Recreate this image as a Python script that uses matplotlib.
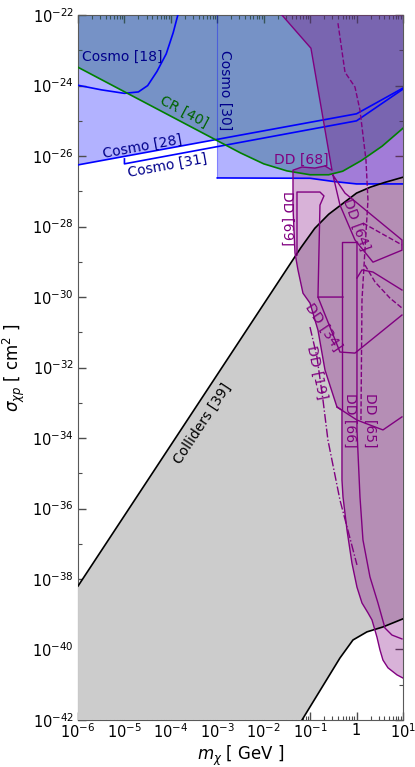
import numpy as np
import matplotlib
matplotlib.use("Agg")
import matplotlib.pyplot as plt
from matplotlib.ticker import LogLocator, NullFormatter

# all values are log10(m / GeV) and log10(sigma / cm^2)
cosmo18_m = [-6.0, -5.5, -5.0, -4.7, -4.5, -4.3, -4.1, -3.95, -3.85]
cosmo18_s = [-23.99, -24.12, -24.22, -24.18, -24.0, -23.6, -23.1, -22.5, -22.0]
cosmo28_m = [-6.0, 0.0, 1.0]
cosmo28_s = [-26.25, -24.8, -24.07]
cosmo31_m = [-5.0, -5.0, 0.0, 1.0]
cosmo31_s = [-26.08, -26.22, -25.0, -24.1]
cosmo30_m = [-3.0, -1.0, -0.5, 0.0, 1.0]
cosmo30_s = [-26.62, -26.63, -26.72, -26.79, -26.79]
cr40_m = [-6.0, -2.5, -2.0, -1.5, -1.0, -0.6, -0.3, 0.1, 0.55, 1.0]
cr40_s = [-23.48, -25.91, -26.22, -26.42, -26.53, -26.53, -26.43, -26.13, -25.72, -25.21]

coll_up_m = [-6.0, -1.2, -0.9, -0.6, -0.3, 0.0, 0.3, 0.6, 1.0]
coll_up_s = [-38.2, -28.6, -28.05, -27.65, -27.35, -27.05, -26.88, -26.75, -26.6]
coll_lo_m = [-1.175, -0.357, -0.077, 0.224, 0.569, 1.0]
coll_lo_s = [-42.0, -40.24, -39.73, -39.50, -39.36, -39.13]

# outer envelope of the direct detection limits
dd_env_m = [-1.606, 1.0, 1.0, 0.871, 0.677, 0.569, 0.504, 0.440, 0.332, 0.246, 0.117,
            0.009, -0.099, -0.206, -0.292, -0.314, -0.314, -0.422, -0.680, -0.831,
            -1.003, -1.154, -1.262, -1.326, -1.369, -1.369, -1.176, -0.896, -0.680,
            -0.530, -0.982]
dd_env_s = [-22.0, -22.0, -40.81, -40.72, -40.52, -40.30, -40.01, -39.65, -39.16, -38.96,
            -38.68, -38.23, -37.55, -36.61, -35.67, -35.19, -33.21, -33.12, -32.07, -30.94,
            -30.17, -29.89, -29.23, -28.75, -27.45, -26.40, -26.31, -26.34, -26.28,
            -26.40, -22.94]
dd64_m = [-0.508, -0.249, 0.978, 0.978, 0.354, -0.034, -0.357, -0.508]
dd64_s = [-26.54, -27.05, -28.38, -28.67, -29.01, -28.38, -27.39, -26.54]
dd69_m = [-1.283, -1.283, -0.788, -0.702, -0.788, -0.831]
dd69_s = [-28.81, -27.02, -27.02, -27.13, -27.39, -30.0]
dd34_m = [-0.292, -0.831, -0.357, -0.034, 0.978]
dd34_s = [-30.0, -30.0, -31.56, -31.59, -30.51]
dd66_m = [0.009, -0.314, -0.314]
dd66_s = [-28.44, -28.44, -33.21]
dd65_m = [0.009, 0.009, 0.074, 0.138, 0.289, 0.461, 0.612, 0.763, 0.978]
dd65_s = [-28.44, -33.77, -35.67, -36.89, -37.94, -38.68, -39.39, -39.59, -39.70]
dd65_top_m = [0.009, 0.117, 0.354, 0.978]
dd65_top_s = [-29.46, -29.23, -29.29, -29.80]
dd_cross_m = [-0.422, 0.009, 0.569, 0.978]
dd_cross_s = [-33.12, -33.49, -33.77, -33.40]
dd_dash_m = [-0.40, -0.249, -0.034, 0.074, 0.203, 0.246, 0.181, 0.117, 0.095]
dd_dash_s = [-22.23, -23.62, -24.04, -24.70, -26.11, -27.25, -28.67, -30.09, -33.49]
dd_dash2_m = [0.138, 0.978]
dd_dash2_s = [-27.90, -28.52]
dd_dash3_m = [0.181, 0.397, 0.720, 0.978]
dd_dash3_s = [-29.09, -29.57, -30.03, -30.31]
dd19_m = [-1.003, -0.853, -0.723, -0.616, -0.357, 0.009]
dd19_s = [-30.85, -31.70, -32.92, -34.06, -35.76, -37.60]

xtick_exp = list(range(-6, 2))
xtick_labels = [r'$10^{-6}$', r'$10^{-5}$', r'$10^{-4}$', r'$10^{-3}$',
                r'$10^{-2}$', r'$10^{-1}$', '1', r'$10^{1}$']
ytick_exp = list(range(-42, -21, 2))
ytick_labels = [r'$10^{%d}$' % e for e in ytick_exp]


def P(a):
    return 10.0 ** np.asarray(a, dtype=float)


fig = plt.figure(figsize=(4.15, 7.67), dpi=100)
ax = fig.add_axes([0.188, 0.0613, 0.783, 0.919])
ax.set_xscale('log')
ax.set_yscale('log')

# cosmology: one union region
c28_at_1em3 = np.interp(cosmo30_m[0], cosmo28_m, cosmo28_s)
blue_m = [-6.0, 1.0] + cosmo30_m[::-1] + [cosmo30_m[0], -6.0]
blue_s = [-22.0, -22.0] + cosmo30_s[::-1] + [c28_at_1em3, cosmo28_s[0]]
ax.fill(P(blue_m), P(blue_s), color='blue', alpha=0.3, lw=0, zorder=1)

# cosmic rays
cr_m = cr40_m + [1.0, -6.0]
cr_s = cr40_s + [-22.0, -22.0]
ax.fill(P(cr_m), P(cr_s), color='#15606a', alpha=0.38, lw=0, zorder=2)

# colliders
col_m = coll_up_m + coll_lo_m[::-1] + [-6.0]
col_s = coll_up_s + coll_lo_s[::-1] + [-42.0]
ax.fill(P(col_m), P(col_s), color='0.8', lw=0, zorder=3)

# direct detection
ax.fill(P(dd_env_m), P(dd_env_s), color='purple', alpha=0.3, lw=0, zorder=4)

ax.plot(P(cosmo18_m), P(cosmo18_s), color='blue', lw=1.2, zorder=5)
ax.plot(P(cosmo28_m), P(cosmo28_s), color='blue', lw=1.2, zorder=5)
ax.plot(P(cosmo31_m), P(cosmo31_s), color='blue', lw=1.2, zorder=5)
ax.plot(P(cosmo30_m), P(cosmo30_s), color='blue', lw=1.2, zorder=5)
ax.plot(P([cosmo30_m[0], cosmo30_m[0]]), P([cosmo30_s[0], -22.0]),
        color='blue', alpha=0.35, lw=0.8, zorder=5)
ax.plot(P(cr40_m), P(cr40_s), color='green', lw=1.2, zorder=5)
ax.plot(P(coll_up_m), P(coll_up_s), color='k', lw=1.2, zorder=5)
ax.plot(P(coll_lo_m), P(coll_lo_s), color='k', lw=1.2, zorder=5)

dd_kw = dict(color='purple', lw=1.0, zorder=6)
ax.plot(P(dd_env_m[2:] + dd_env_m[:1]), P(dd_env_s[2:] + dd_env_s[:1]), **dd_kw)
ax.plot(P(dd64_m), P(dd64_s), **dd_kw)
ax.plot(P(dd69_m), P(dd69_s), **dd_kw)
ax.plot(P(dd34_m), P(dd34_s), **dd_kw)
ax.plot(P(dd66_m), P(dd66_s), **dd_kw)
ax.plot(P(dd65_m), P(dd65_s), **dd_kw)
ax.plot(P(dd65_top_m), P(dd65_top_s), **dd_kw)
ax.plot(P(dd_cross_m), P(dd_cross_s), **dd_kw)
ax.plot(P(dd_dash_m), P(dd_dash_s), ls='--', **dd_kw)
ax.plot(P(dd_dash2_m), P(dd_dash2_s), ls='--', **dd_kw)
ax.plot(P(dd_dash3_m), P(dd_dash3_s), ls='--', **dd_kw)
ax.plot(P(dd19_m), P(dd19_s), ls='-.', **dd_kw)

# labels
txt = dict(fontsize=10, ha='center', va='center', zorder=7)
ax.text(10**-5.05, 10**-23.19, 'Cosmo [18]', color='darkblue', **txt)
ax.text(10**-3.72, 10**-24.75, 'CR [40]', color='darkgreen', rotation=-28, **txt)
ax.text(10**-4.62, 10**-25.72, 'Cosmo [28]', color='darkblue', rotation=10.4, **txt)
ax.text(10**-4.08, 10**-26.28, 'Cosmo [31]', color='darkblue', rotation=10.4, **txt)
ax.text(10**-2.83, 10**-24.13, 'Cosmo [30]', color='darkblue', rotation=-90, **txt)
ax.text(10**-1.18, 10**-26.11, 'DD [68]', color='purple', **txt)
ax.text(10**-1.50, 10**-27.76, 'DD [69]', color='purple', rotation=-90, **txt)
ax.text(10**-0.01, 10**-27.93, 'DD [64]', color='purple', rotation=-70, **txt)
ax.text(10**-0.72, 10**-30.85, 'DD [34]', color='purple', rotation=-56, **txt)
ax.text(10**-0.85, 10**-32.13, 'DD [19]', color='purple', rotation=-78, **txt)
ax.text(10**-0.14, 10**-33.49, 'DD [66]', color='purple', rotation=-90, **txt)
ax.text(10**0.29, 10**-33.49, 'DD [65]', color='purple', rotation=-90, **txt)
ax.text(10**-3.31, 10**-33.60, 'Colliders [39]', color='k', rotation=56.7, **txt)

ax.set_xlim(1e-6, 10)
ax.set_ylim(1e-42, 1e-22)
ax.set_xticks(P(xtick_exp))
ax.set_xticklabels(xtick_labels)
ax.xaxis.set_minor_locator(LogLocator(base=10, subs=np.arange(2, 10), numticks=100))
ax.xaxis.set_minor_formatter(NullFormatter())
ax.set_yticks(P(ytick_exp))
ax.set_yticklabels(ytick_labels)
ax.set_yticks(P(list(range(-41, -22, 2))), minor=True)
ax.yaxis.set_minor_formatter(NullFormatter())
ax.tick_params(which='both', direction='in', top=True, right=True, labelsize=10.5,
               color='0.3')
ax.tick_params(which='major', length=6, width=1)
ax.tick_params(which='minor', length=3, width=0.8)
for sp in ax.spines.values():
    sp.set_color('0.35')
ax.tick_params(axis='x', pad=2)
ax.tick_params(axis='y', pad=3)

ax.set_xlabel(r'$m_\chi$ [ GeV ]', fontsize=12, labelpad=2)
ax.set_ylabel(r'$\sigma_{\chi p}$ [ cm$^2$ ]', fontsize=12, labelpad=4)

fig.savefig('out.png', dpi=100)
